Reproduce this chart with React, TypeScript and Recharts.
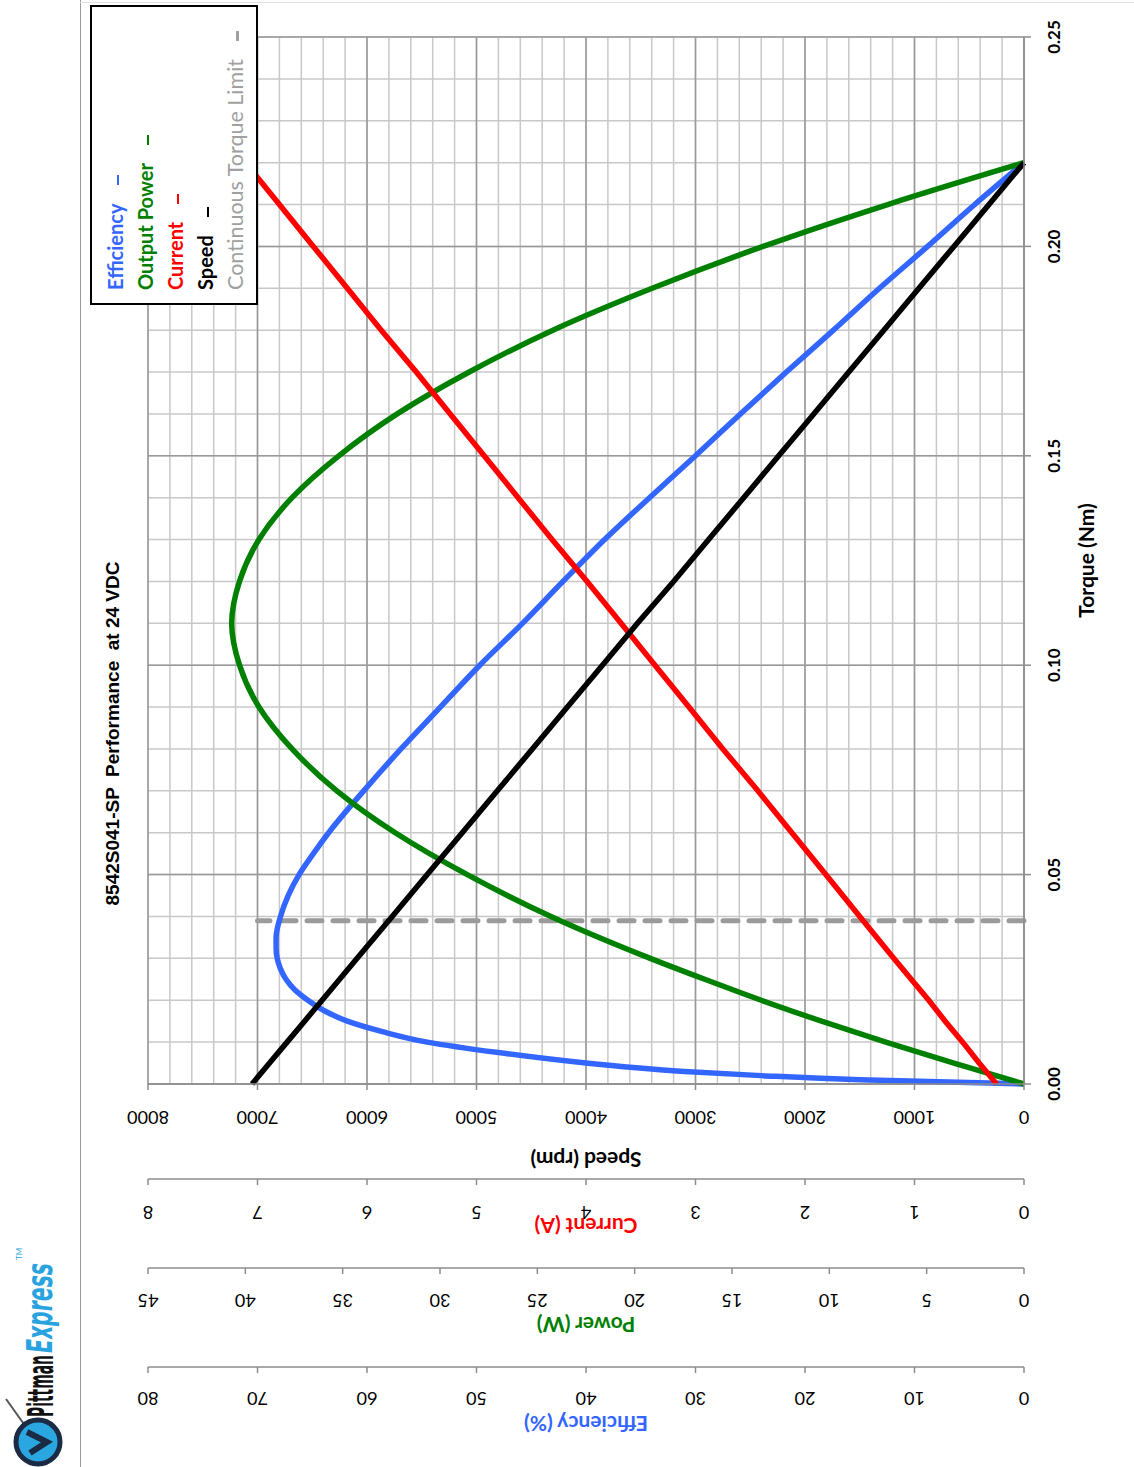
import React from 'react';
import { LineChart, Line, XAxis, YAxis, CartesianGrid, Legend } from 'recharts';

// torque sample points (Nm) for speed / current / power
const torque = [0, 0.005, 0.01, 0.015, 0.02, 0.025, 0.03, 0.04, 0.05, 0.06, 0.07, 0.08, 0.09, 0.1, 0.11, 0.12, 0.13, 0.14, 0.15, 0.16, 0.17, 0.18, 0.19, 0.2, 0.21, 0.22];
const speedRpm = [7050, 6890, 6730, 6570, 6410, 6250, 6090, 5770, 5450, 5130, 4810, 4490, 4170, 3850, 3530, 3200, 2880, 2560, 2240, 1920, 1600, 1280, 960, 640, 320, 0];
const currentA = [0.25, 0.41, 0.56, 0.72, 0.87, 1.03, 1.19, 1.5, 1.81, 2.12, 2.43, 2.75, 3.06, 3.37, 3.68, 3.99, 4.31, 4.62, 4.93, 5.24, 5.55, 5.87, 6.18, 6.49, 6.8, 7.11];
const powerW = [0, 3.6, 7.1, 10.4, 13.5, 16.4, 19.2, 24.3, 28.6, 32.3, 35.3, 37.6, 39.3, 40.3, 40.7, 40.3, 39.3, 37.6, 35.2, 32.2, 28.5, 24.2, 19.1, 13.4, 7.0, 0];

// efficiency is sampled denser near no-load
const effTorque = [0, 0.001, 0.002, 0.003, 0.004, 0.005, 0.0075, 0.01, 0.0125, 0.015, 0.0175, 0.02, 0.0225, 0.025, 0.0275, 0.03, 0.0325, 0.035, 0.04, 0.045, 0.05, 0.055, 0.06, 0.07, 0.08, 0.09, 0.1, 0.11, 0.12, 0.13, 0.14, 0.15, 0.16, 0.17, 0.18, 0.19, 0.2, 0.21, 0.22];
const efficiencyPct = [0, 15, 24, 31, 36, 40, 48, 54.5, 58.6, 61.8, 63.9, 65.4, 66.6, 67.4, 67.9, 68.2, 68.3, 68.3, 67.9, 67.2, 66.2, 64.9, 63.5, 60.3, 56.9, 53.3, 49.7, 45.8, 42.1, 38.3, 34.2, 30.0, 25.9, 21.7, 17.4, 13.2, 8.8, 4.5, 0];

// continuous torque limit (dashed)
const limitTorque = [0.039, 0.039];
const limitSpeed = [0, 7000];

const torqueTicks = [0, 0.05, 0.1, 0.15, 0.2, 0.25];
const speedTicks = [0, 1000, 2000, 3000, 4000, 5000, 6000, 7000, 8000];
const currentTicks = [0, 1, 2, 3, 4, 5, 6, 7, 8];
const powerTicks = [0, 5, 10, 15, 20, 25, 30, 35, 40, 45];
const efficiencyTicks = [0, 10, 20, 30, 40, 50, 60, 70, 80];
const minorTorqueTicks = Array.from({ length: 26 }, (_, i) => i / 100);
const minorSpeedTicks = Array.from({ length: 41 }, (_, i) => i * 200);

const legendItems = [
  { name: 'Efficiency', color: '#3366ff', bold: true },
  { name: 'Output Power', color: '#008000', bold: true },
  { name: 'Current', color: '#ff0000', bold: true },
  { name: 'Speed', color: '#000000', bold: true },
  { name: 'Continuous Torque Limit', color: '#a0a0a0', bold: false },
];

const W = 1467;
const H = 1134;
const FONT = 'Lato, "Open Sans", sans-serif';
const AXIS = { stroke: '#8c8c8c', strokeWidth: 1.5 };

const pts = (xs: number[], ys: number[]) => xs.map((t, i) => ({ t, v: ys[i] }));

function YTick(props: any) {
  const { x, y, payload, shift } = props;
  const cx = x - shift;
  return (
    <text x={cx} y={y} transform={`rotate(-90 ${cx} ${y})`} textAnchor="middle" dominantBaseline="central"
      fontSize={18} fill="#000" fontFamily={FONT}>
      {payload.value}
    </text>
  );
}

function XTick(props: any) {
  const { x, y, payload } = props;
  return (
    <text x={x} y={y + 20} textAnchor="middle" dominantBaseline="central" fontSize={17} fontWeight="bold"
      fill="#000" fontFamily={FONT}>
      {Number(payload.value).toFixed(2)}
    </text>
  );
}

const yTitle = (text: string, color: string, dist: number) => (props: any) => {
  const vb = props.viewBox || {};
  const cx = vb.x + vb.width - dist;
  const cy = vb.y + vb.height / 2;
  return (
    <text x={cx} y={cy} transform={`rotate(-90 ${cx} ${cy})`} textAnchor="middle" dominantBaseline="central"
      fontSize={21} fontWeight="bold" fill={color} fontFamily={FONT}>
      {text}
    </text>
  );
};

const xTitle = (props: any) => {
  const vb = props.viewBox || {};
  const cx = vb.x + vb.width / 2;
  const cy = vb.y + 61;
  return (
    <text x={cx} y={cy} textAnchor="middle" dominantBaseline="central" fontSize={21} fontWeight="bold"
      fill="#000" fontFamily={FONT}>
      Torque (Nm)
    </text>
  );
};

function LegendBox() {
  return (
    <div style={{
      width: 300, height: 168, boxSizing: 'border-box', border: '2px solid #000', background: '#fff',
      padding: '8px 0 0 13px', fontFamily: FONT,
    }}>
      {legendItems.map((it) => (
        <div key={it.name} style={{
          height: 30, lineHeight: '30px', color: it.color, whiteSpace: 'nowrap',
          fontWeight: it.bold ? 'bold' : 'normal', fontSize: it.bold ? 20 : 21.5,
        }}>
          {it.name}
          <span style={{ display: 'inline-block', width: 10, height: 2.5, background: it.color, marginLeft: 18, verticalAlign: 'middle' }} />
        </div>
      ))}
    </div>
  );
}

function Logo() {
  return (
    <svg width={260} height={80} style={{ position: 'absolute', left: 0, top: 0 }}>
      <line x1={68} y1={6} x2={40} y2={26} stroke="#555" strokeWidth={2} />
      <circle cx={25} cy={38} r={22} fill="#2aa7e1" stroke="#1b2b44" strokeWidth={5} />
      <polyline points="14,30 25,47 35,27" fill="none" stroke="#1b2b44" strokeWidth={6} />
      <text x={50} y={53} fontFamily='"DejaVu Sans Condensed", "DejaVu Sans", sans-serif' fontWeight="bold" fontSize={36}
        textLength={62} lengthAdjust="spacingAndGlyphs" fill="#111">Pittman</text>
      <text x={114} y={52} fontFamily='"DejaVu Sans Condensed", "DejaVu Sans", sans-serif' fontStyle="italic" fontWeight="bold" fontSize={36}
        textLength={90} lengthAdjust="spacingAndGlyphs" fill="#29a3e0">Express</text>
      <text x={207} y={22} fontFamily={FONT} fontSize={8} fill="#29a3e0">TM</text>
    </svg>
  );
}

export default function App() {
  return (
    <div style={{
      position: 'absolute', left: 0, top: 0, width: W, height: H, background: '#fff',
      transformOrigin: '0 0', transform: `translate(0px, ${W}px) rotate(-90deg)`,
    }}>
      <div style={{ position: 'absolute', left: 0, top: 80, width: W, height: 1, background: '#9a9a9a' }} />
      <div style={{ position: 'absolute', left: 1464, top: 80, width: 1, height: H - 80, background: '#e0e0e0' }} />
      <Logo />
      <div style={{
        position: 'absolute', left: 0, top: 101, width: W, textAlign: 'center', whiteSpace: 'pre',
        fontFamily: '"Liberation Sans", Arial, sans-serif', fontWeight: 'bold', fontSize: 19, lineHeight: '24px', color: '#000',
      }}>
        {'8542S041-SP  Performance  at 24 VDC'}
      </div>
      <div style={{ position: 'absolute', left: 0, top: 0 }}>
        <LineChart width={W} height={H} margin={{ top: 148, right: 37, bottom: 50, left: 0 }}>
          <CartesianGrid xAxisId="a_torque" yAxisId="a_speed" horizontalValues={minorSpeedTicks}
            verticalValues={minorTorqueTicks} stroke="#c8c8c8" strokeWidth={1.5} />
          <CartesianGrid xAxisId="a_torque" yAxisId="a_speed" stroke="#999999" strokeWidth={1.5} />
          <XAxis xAxisId="a_torque" dataKey="t" type="number" domain={[0, 0.25]} ticks={torqueTicks} interval={0} height={60}
            tickSize={7} tickLine={AXIS} axisLine={AXIS} tick={XTick} label={xTitle} />
          <YAxis yAxisId="a_speed" type="number" domain={[0, 8000]} ticks={speedTicks} interval={0} width={95}
            tickSize={6} tickLine={AXIS} axisLine={AXIS} tick={(p: any) => <YTick {...p} shift={26} />}
            label={yTitle('Speed (rpm)', '#000000', 76)} />
          <YAxis yAxisId="b_current" type="number" domain={[0, 8]} ticks={currentTicks} interval={0} width={89}
            tickSize={6} tickLine={AXIS} axisLine={AXIS} tick={(p: any) => <YTick {...p} shift={26} />}
            label={yTitle('Current (A)', '#ff0000', 47)} />
          <YAxis yAxisId="c_power" type="number" domain={[0, 45]} ticks={powerTicks} interval={0} width={99}
            tickSize={6} tickLine={AXIS} axisLine={AXIS} tick={(p: any) => <YTick {...p} shift={25} />}
            label={yTitle('Power (W)', '#008000', 57)} />
          <YAxis yAxisId="d_efficiency" type="number" domain={[0, 80]} ticks={efficiencyTicks} interval={0} width={100}
            tickSize={6} tickLine={AXIS} axisLine={AXIS} tick={(p: any) => <YTick {...p} shift={24} />}
            label={yTitle('Efficiency (%)', '#3366ff', 57)} />

          <Line data={pts(limitTorque, limitSpeed)} xAxisId="a_torque" yAxisId="a_speed" dataKey="v" name="Continuous Torque Limit"
            type="linear" stroke="#9b9b9b" strokeWidth={5} strokeDasharray="15 11" strokeLinecap="round"
            dot={false} isAnimationActive={false} />
          <Line data={pts(effTorque, efficiencyPct)} xAxisId="a_torque" yAxisId="d_efficiency" dataKey="v" name="Efficiency"
            type="monotone" stroke="#3366ff" strokeWidth={5.5} dot={false} isAnimationActive={false} />
          <Line data={pts(torque, powerW)} xAxisId="a_torque" yAxisId="c_power" dataKey="v" name="Output Power"
            type="monotone" stroke="#008000" strokeWidth={5.5} dot={false} isAnimationActive={false} />
          <Line data={pts(torque, currentA)} xAxisId="a_torque" yAxisId="b_current" dataKey="v" name="Current"
            type="linear" stroke="#ff0000" strokeWidth={5.5} dot={false} isAnimationActive={false} />
          <Line data={pts(torque, speedRpm)} xAxisId="a_torque" yAxisId="a_speed" dataKey="v" name="Speed"
            type="linear" stroke="#000000" strokeWidth={5.5} dot={false} isAnimationActive={false} />

          <Legend layout="vertical" align="center" verticalAlign="middle" content={LegendBox}
            wrapperStyle={{ left: 1162, top: 90, width: 300, height: 168 }} />
        </LineChart>
      </div>
    </div>
  );
}
